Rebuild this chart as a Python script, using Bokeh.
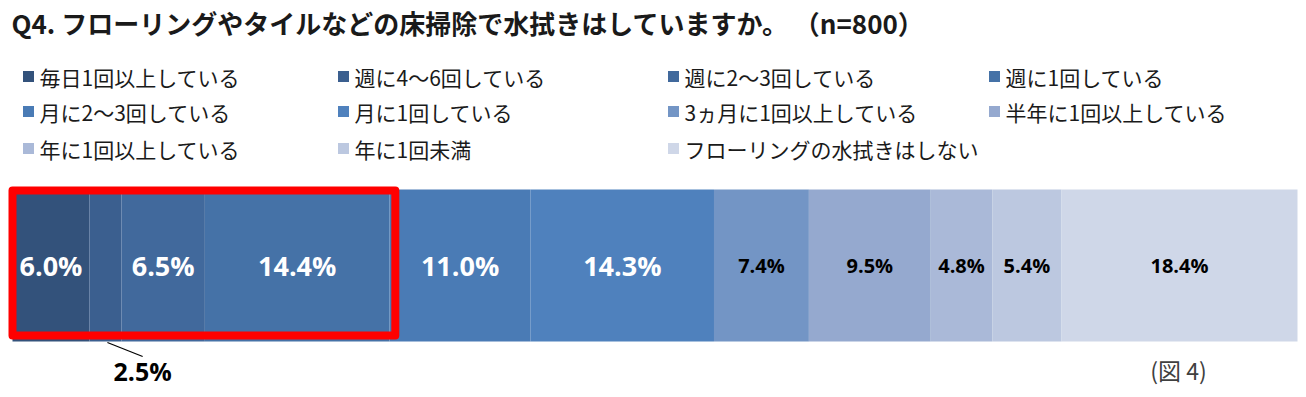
from bokeh.plotting import figure
from bokeh.models import Range1d
from bokeh.core.properties import value
from bokeh.embed import file_html
from bokeh.resources import INLINE
import numpy as np

# ---------------- data ----------------
title_text = "Q4. フローリングやタイルなどの床掃除で水拭きはしていますか。 （n=800）"
categories = [
    "毎日1回以上している", "週に4～6回している", "週に2～3回している", "週に1回している",
    "月に2～3回している", "月に1回している", "3ヵ月に1回以上している", "半年に1回以上している",
    "年に1回以上している", "年に1回未満", "フローリングの水拭きはしない",
]
values = [6.0, 2.5, 6.5, 14.4, 11.0, 14.3, 7.4, 9.5, 4.8, 5.4, 18.4]
colors = ["#33527b", "#3b5f8f", "#41699c", "#4572a7", "#4a7bb5", "#4f81bd",
          "#7395c5", "#95a9cf", "#aab9d8", "#bcc8e0", "#cfd7e8"]
white_label_idx = [0, 2, 3, 4, 5]
black_label_idx = [6, 7, 8, 9, 10]
outside_label_idx = 1
highlight_upto = 3          # red frame around the first four segments
fig_note = "(図 4)"

# ---------------- layout ----------------
W, H = 1298, 389
BAR_L, BAR_R = 12, 1297          # pixel extent of the bar
BAR_YC, BAR_H = 265, 152
JP = "Noto Sans CJK JP"
NUM = "Open Sans"

total = sum(values)
ppp = (BAR_R - BAR_L) / total
pct_start = -BAR_L / ppp
pct_end = pct_start + W / ppp

p = figure(width=W, height=H, output_backend="svg", toolbar_location=None,
           x_range=Range1d(0, W), y_range=Range1d(H, 0),
           x_axis_location=None, y_axis_location=None,
           min_border=0, outline_line_color=None, background_fill_color="white",
           border_fill_color="white")
p.extra_x_ranges = {"pct": Range1d(pct_start, pct_end)}
p.grid.visible = False

right = np.cumsum(values)
left = right - np.array(values)
mid = (left + right) / 2

# bars
p.hbar(y=BAR_YC, left=left, right=right, height=BAR_H, fill_color=colors,
       line_color=None, x_range_name="pct")

# red highlight frame
p.quad(left=[0.0], right=[right[highlight_upto] + 0.45],
       top=[BAR_YC - BAR_H / 2 + 1], bottom=[BAR_YC + BAR_H / 2 - 6],
       fill_color=None, line_color="#ff0000", line_width=8, line_join="round",
       x_range_name="pct")

# labels inside
p.text(x=mid[white_label_idx], y=[BAR_YC] * len(white_label_idx),
       text=[f"{values[i]:.1f}%" for i in white_label_idx],
       text_font=value(NUM), text_font_style="bold", text_font_size="27px",
       text_color="white", text_align="center", text_baseline="middle",
       x_range_name="pct")
p.text(x=mid[black_label_idx], y=[BAR_YC] * len(black_label_idx),
       text=[f"{values[i]:.1f}%" for i in black_label_idx],
       text_font=value(NUM), text_font_style="bold", text_font_size="20px",
       text_color="black", text_align="center", text_baseline="middle",
       x_range_name="pct")

# outside label with leader line
oi = outside_label_idx
p.segment(x0=[mid[oi] + 0.15], y0=[BAR_YC + BAR_H / 2 + 1], x1=[mid[oi] + 2.9],
          y1=[BAR_YC + BAR_H / 2 + 15], line_color="black", line_width=1.2,
          x_range_name="pct")
p.text(x=[mid[oi] + 2.9], y=[370], text=[f"{values[oi]:.1f}%"],
       text_font=value(NUM), text_font_style="bold", text_font_size="25px",
       text_color="black", text_align="center", text_baseline="middle",
       x_range_name="pct")

# title
p.text(x=[11], y=[22], text=[title_text], text_font=value(JP),
       text_font_style="bold", text_font_size="26px", text_color="#1a1a1a",
       text_align="left", text_baseline="middle")

# legend (4 columns x 3 rows)
col_x = [28, 343, 673, 994]
row_y = [76, 111, 148]
lx, ly = [], []
for i in range(len(categories)):
    lx.append(col_x[i % 4])
    ly.append(row_y[i // 4])
p.scatter(x=lx, y=ly, marker="square", size=11, fill_color=colors, line_color=None)
p.text(x=[x + 11 for x in lx], y=ly, text=categories, text_font=value(JP),
       text_font_size="21px", text_color="#1a1a1a", text_align="left",
       text_baseline="middle")

# figure note
p.text(x=[1178], y=[369], text=[fig_note], text_font=value(JP),
       text_font_size="23px", text_color="#404040", text_align="center",
       text_baseline="middle")

open("out.html", "w").write(file_html(p, INLINE))
